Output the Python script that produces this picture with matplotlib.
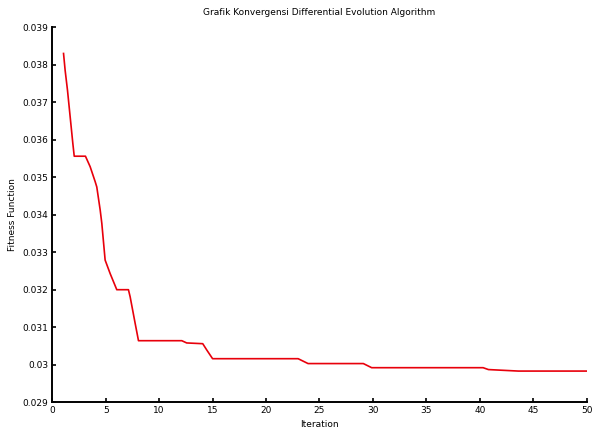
import matplotlib
matplotlib.use('Agg')
import matplotlib.pyplot as plt
import numpy as np

# convergence curve
iteration = [1.06, 1.21, 1.43, 1.68, 1.93, 2.06, 3.11, 3.55, 4.02, 4.17, 4.49, 4.64,
             4.95, 5.42, 6.04, 7.13, 7.29, 7.76, 8.07, 12.12, 12.58, 14.08, 14.46,
             15.0, 23.0, 23.93, 26.6, 29.1, 29.88, 40.3, 40.8, 43.6, 50.0]
fitness = [0.03830, 0.03785, 0.03732, 0.03661, 0.03590, 0.03556, 0.03556, 0.03528,
           0.03488, 0.03474, 0.03412, 0.03377, 0.03279, 0.03243, 0.03200, 0.03200,
           0.03181, 0.03110, 0.03064, 0.03064, 0.03058, 0.03056, 0.03039, 0.03016,
           0.03016, 0.03003, 0.03003, 0.03003, 0.02992, 0.02992, 0.02987, 0.02983,
           0.02983]

xticks = np.arange(0, 51, 5)
yticks = [0.029, 0.03, 0.031, 0.032, 0.033, 0.034, 0.035, 0.036, 0.037, 0.038, 0.039]
yticklabels = ['0.029', '0.03', '0.031', '0.032', '0.033', '0.034', '0.035',
               '0.036', '0.037', '0.038', '0.039']

fig = plt.figure(figsize=(6, 4.32), dpi=100, facecolor='white')
ax = fig.add_axes([0.087, 0.069, 0.891, 0.868])
ax.plot(iteration, fitness, color='#e8000b', linewidth=1.2)

ax.set_xlim(0, 50)
ax.set_ylim(0.029, 0.039)
ax.set_xticks(xticks)
ax.set_yticks(yticks)
ax.set_yticklabels(yticklabels)
ax.tick_params(direction='in', length=3, width=1.2, labelsize=6.5, pad=3)
for side in ['top', 'right']:
    ax.spines[side].set_visible(False)
for side in ['left', 'bottom']:
    ax.spines[side].set_linewidth(1.4)

ax.set_title('Grafik Konvergensi Differential Evolution Algorithm', fontsize=6.5, pad=9)
ax.set_xlabel('Iteration', fontsize=6.5, labelpad=3)
ax.set_ylabel('Fitness Function', fontsize=6.5, labelpad=4)

plt.savefig('out.png', dpi=100)
